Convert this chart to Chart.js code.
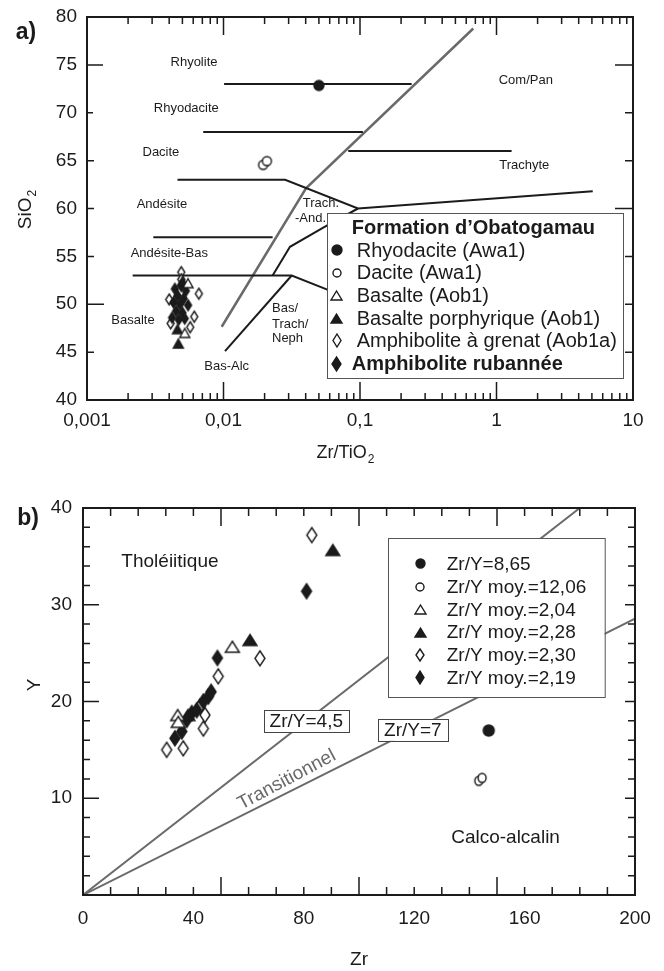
<!DOCTYPE html>
<html>
<head>
<meta charset="utf-8">
<script src="https://cdn.jsdelivr.net/npm/chart.js@4.4.1/dist/chart.umd.min.js"></script>
<style>
  html, body { margin: 0; padding: 0; background: #fff; }
  #wrap { position: relative; width: 664px; height: 971px; }
  #ca { position: absolute; left: 0; top: 0; width: 664px; height: 465px; }
  #cb { position: absolute; left: 0; top: 465px; width: 664px; height: 506px; }
</style>
</head>
<body>
<div id="wrap">
  <canvas id="ca" width="664" height="465"></canvas>
  <canvas id="cb" width="664" height="506"></canvas>
</div>
<script>
// ---------- Panel a : SiO2 vs Zr/TiO2 ----------
const zrTiTicks = [0.001, 0.01, 0.1, 1, 10];
const sio2Ticks = [40, 45, 50, 55, 60, 65, 70, 75, 80];

// samples, [Zr/TiO2, SiO2]
const aRhyodacite   = [[0.05, 72.85]];
const aDacite       = [[0.0195, 64.55], [0.0208, 64.95]];
const aBasalte      = [[0.0052, 47.0], [0.0055, 52.2]];
const aBasaltePorph = [[0.00467, 45.9], [0.0046, 47.4], [0.0050, 52.4]];
const aAmphGrenat   = [[0.0049, 53.35], [0.0049, 52.6], [0.0066, 51.1], [0.0061, 48.7],
                       [0.0040, 50.5], [0.0041, 48.0], [0.0057, 47.6]];
const aAmphRub      = [[0.0044, 51.6], [0.0049, 51.9], [0.0053, 51.4], [0.0046, 50.9],
                       [0.0051, 50.6], [0.0043, 50.2], [0.0048, 50.0], [0.0055, 49.9],
                       [0.0045, 49.3], [0.0050, 49.1], [0.0042, 48.6], [0.0047, 48.4],
                       [0.0052, 48.5]];

// field boundaries
const bndRhyolite    = [[0.0101, 73], [0.239, 73]];
const bndRhyodacite  = [[0.0071, 68], [0.105, 68]];
const bndTrachyte    = [[0.082, 66], [1.29, 66]];
const bndDacite      = [[0.0046, 63], [0.0283, 63], [0.0966, 60], [5.07, 61.8]];
const bndAndesite    = [[0.00306, 57], [0.0229, 57]];
const bndBasalte     = [[0.00216, 53], [0.0316, 53], [0.057, 51.56], [0.085, 50.4]];
const bndTrachAnd    = [[0.0229, 53], [0.0307, 56], [0.0538, 58], [0.0966, 60]];
const bndBasAlc      = [[0.01026, 45.1], [0.0316, 53]];
const bndSubalcalin  = [[0.0097, 47.65], [0.0402, 62.1], [0.676, 78.8]];

// field names
const fieldNames = ['Rhyolite', 'Rhyodacite', 'Dacite', 'Andésite', 'Andésite-Bas', 'Basalte',
                    'Bas-Alc', 'Com/Pan', 'Trachyte', 'Trach.', '-And.'];
const fieldZrTi  = [0.00608, 0.00534, 0.00348, 0.00354, 0.00401, 0.00217,
                    0.01055, 1.64, 1.596, 0.0518, 0.0434];
const fieldSiO2  = [75.3, 70.4, 65.9, 60.4, 55.3, 48.35, 43.48, 73.4, 64.47, 60.54, 58.98];
const nephLines  = ['Bas/', 'Trach/', 'Neph'];
const nephZrTi   = [0.02266, 0.02266, 0.02266];
const nephSiO2   = [49.58, 47.94, 46.44];

// ---------- Panel b : Y vs Zr ----------
const zrTicks = [0, 40, 80, 120, 160, 200];
const yTicks  = [10, 20, 30, 40];

// samples, [Zr, Y]
const bRhyodacite   = [[147, 17]];
const bDacite       = [[143.4, 11.8], [144.6, 12.1]];
const bBasalte      = [[54.1, 25.66], [34.3, 18.6], [34.5, 17.9]];
const bBasaltePorph = [[90.5, 35.66], [60.5, 26.36], [38, 18.6]];
const bAmphGrenat   = [[82.9, 37.2], [64.1, 24.46], [49.0, 22.6], [30.3, 15.0], [36.3, 15.16],
                       [43.6, 17.2], [44.2, 18.6], [42.4, 19.5]];
const bAmphRub      = [[81.0, 31.4], [48.7, 24.5], [33.3, 16.2], [35.8, 16.9], [37.6, 18.1],
                       [39.4, 18.8], [41.2, 19.1], [43.6, 20.0], [45.4, 20.5], [46.4, 21.0]];

const ratioLines  = [4.5, 7];              // Zr/Y
const ratioLabels = ['Zr/Y=4,5', 'Zr/Y=7'];
const ratioLabelZr = [80.9, 119.5];
const legendB = ['Zr/Y=8,65', 'Zr/Y moy.=12,06', 'Zr/Y moy.=2,04', 'Zr/Y moy.=2,28',
                 'Zr/Y moy.=2,30', 'Zr/Y moy.=2,19'];
const legendA = ['Rhyodacite (Awa1)', 'Dacite (Awa1)', 'Basalte (Aob1)',
                 'Basalte porphyrique (Aob1)', 'Amphibolite à grenat (Aob1a)', 'Amphibolite rubannée'];

// ---------- drawing helpers ----------
const INK = '#1b1b1b';
const GREY = '#6a6a6a';
const FONT = "'Liberation Sans', Arial, Helvetica, sans-serif";

function marker(shape, w, h, filled) {
  const c = document.createElement('canvas');
  const pad = 2;
  c.width = w + pad * 2; c.height = h + pad * 2;
  const g = c.getContext('2d');
  g.lineWidth = 1.4; g.strokeStyle = INK; g.fillStyle = filled ? INK : '#fff';
  const cx = c.width / 2, cy = c.height / 2;
  g.beginPath();
  if (shape === 'diamond') {
    g.moveTo(cx, cy - h / 2); g.lineTo(cx + w / 2, cy); g.lineTo(cx, cy + h / 2); g.lineTo(cx - w / 2, cy);
  } else if (shape === 'triangle') {
    g.moveTo(cx, cy - h / 2); g.lineTo(cx + w / 2, cy + h / 2); g.lineTo(cx - w / 2, cy + h / 2);
  } else {
    g.ellipse(cx, cy, w / 2, h / 2, 0, 0, Math.PI * 2);
  }
  g.closePath(); g.fill(); g.stroke();
  return c;
}

const toXY = arr => arr.map(([x, y]) => ({ x, y }));
const pointsDS = (arr, style) => ({ data: toXY(arr), pointStyle: style, pointRadius: 5, showLine: false });
const lineDS = (arr, color, width) => ({ data: toXY(arr), showLine: true, borderColor: color,
  borderWidth: width, pointRadius: 0, fill: false, tension: 0 });

function textPlugin(items) {
  return { id: 'fieldText', beforeDatasetsDraw(chart) {
    const { ctx } = chart; const xs = chart.scales.x, ys = chart.scales.y;
    ctx.save();
    ctx.textBaseline = 'middle';
    for (const it of items) {
      ctx.font = it.font; ctx.fillStyle = it.color || INK; ctx.textAlign = it.align || 'center';
      const px = xs.getPixelForValue(it.x), py = ys.getPixelForValue(it.y);
      ctx.save(); ctx.translate(px, py);
      if (it.angle) ctx.rotate(it.angle * Math.PI / 180);
      ctx.fillText(it.text, 0, 0);
      ctx.restore();
    }
    ctx.restore();
  }};
}

function boxedLabelsPlugin(items) {
  return { id: 'boxedLabels', afterDatasetsDraw(chart) {
    const { ctx } = chart; const xs = chart.scales.x, ys = chart.scales.y;
    ctx.save();
    ctx.font = '19px ' + FONT; ctx.textAlign = 'center'; ctx.textBaseline = 'middle';
    for (const it of items) {
      const px = xs.getPixelForValue(it.x), py = ys.getPixelForValue(it.y);
      const w = ctx.measureText(it.text).width + 12, h = 22;
      ctx.fillStyle = '#fff'; ctx.fillRect(px - w / 2, py - h / 2, w, h);
      ctx.strokeStyle = '#444'; ctx.lineWidth = 1; ctx.strokeRect(Math.round(px - w / 2) + 0.5, Math.round(py - h / 2) + 0.5, Math.round(w), h);
      ctx.fillStyle = INK; ctx.fillText(it.text, px, py + 1);
    }
    ctx.restore();
  }};
}

function legendPlugin(spec) {
  return { id: 'boxLegend', afterDatasetsDraw(chart) {
    const { ctx, chartArea: a } = chart;
    const x0 = Math.round(a.left + spec.dx), y0 = Math.round(a.top + spec.dy);
    ctx.save();
    ctx.fillStyle = '#fff'; ctx.fillRect(x0, y0, spec.w, spec.h);
    ctx.strokeStyle = '#555'; ctx.lineWidth = 1; ctx.strokeRect(x0 + 0.5, y0 + 0.5, spec.w, spec.h);
    ctx.fillStyle = INK; ctx.textBaseline = 'middle'; ctx.textAlign = 'left';
    if (spec.title) {
      ctx.font = 'bold ' + spec.size + 'px ' + FONT;
      ctx.fillText(spec.title, x0 + spec.titleX, y0 + spec.titleY);
    }
    spec.rows.forEach((r, i) => {
      const y = y0 + spec.rowY + i * spec.rowH;
      ctx.drawImage(r.mark, Math.round(x0 + spec.markX - r.mark.width / 2), Math.round(y - r.mark.height / 2));
      ctx.font = (r.bold ? 'bold ' : '') + spec.size + 'px ' + FONT;
      ctx.fillText(r.text, x0 + (r.bold ? spec.boldX : spec.textX), y + 1);
    });
    ctx.restore();
  }};
}

function framePlugin(spec) {
  return { id: 'frame', afterDraw(chart) {
    const { ctx, chartArea: a } = chart; const xs = chart.scales.x, ys = chart.scales.y;
    ctx.save();
    ctx.strokeStyle = INK; ctx.lineWidth = 1.5;
    ctx.beginPath();
    spec.bottom.forEach(([v, l]) => { const p = xs.getPixelForValue(v); ctx.moveTo(p, a.bottom); ctx.lineTo(p, a.bottom - l); });
    spec.top.forEach(([v, l]) => { const p = xs.getPixelForValue(v); ctx.moveTo(p, a.top); ctx.lineTo(p, a.top + l); });
    spec.left.forEach(([v, l]) => { const p = ys.getPixelForValue(v); ctx.moveTo(a.left, p); ctx.lineTo(a.left + l, p); });
    spec.right.forEach(([v, l]) => { const p = ys.getPixelForValue(v); ctx.moveTo(a.right, p); ctx.lineTo(a.right - l, p); });
    ctx.stroke();
    ctx.lineWidth = 2;
    ctx.strokeRect(a.left, a.top, a.right - a.left, a.bottom - a.top);
    // axis titles and panel tag
    ctx.fillStyle = INK; ctx.textBaseline = 'alphabetic';
    for (const t of spec.titles) {
      ctx.save(); ctx.translate(t.x, t.y); if (t.angle) ctx.rotate(t.angle * Math.PI / 180);
      ctx.font = t.font; ctx.textAlign = 'left';
      const w1 = ctx.measureText(t.text).width;
      let w2 = 0;
      if (t.sub) { ctx.font = t.subFont; w2 = ctx.measureText(t.sub).width; }
      const start = -(w1 + w2) / 2;
      ctx.font = t.font; ctx.fillText(t.text, start, t.base);
      if (t.sub) { ctx.font = t.subFont; ctx.fillText(t.sub, start + w1 + 1, t.base + 5); }
      ctx.restore();
    }
    ctx.restore();
  }};
}

const tickFont = { family: FONT, size: 19 };
// keep the plot frame where the layout padding puts it
const noScalePad = s => { s.paddingTop = 0; s.paddingBottom = 0; };

// ---------- chart a ----------
const mkA = {
  rhyo: marker('circle', 10, 10, true), dac: marker('circle', 9, 9, false),
  bas: marker('triangle', 10, 9, false), basP: marker('triangle', 10, 9, true),
  amG: marker('diamond', 7, 11, false), amR: marker('diamond', 7, 11, true)
};
const mkLA = [marker('circle', 10, 10, true), marker('circle', 8, 8, false),
  marker('triangle', 11, 9, false), marker('triangle', 11, 9, true),
  marker('diamond', 8, 13, false), marker('diamond', 9, 14, true)];

const minorLog = [];
for (let k = -3; k < 1; k++) for (let m = 2; m <= 9; m++) minorLog.push(m * Math.pow(10, k));
const logTicks = zrTiTicks.map(v => [v, 18]).concat(minorLog.map(v => [v, 7]));

const labelsA = fieldNames.map((t, i) => ({ text: t, x: fieldZrTi[i], y: fieldSiO2[i], font: '13px ' + FONT }))
  .concat(nephLines.map((t, i) => ({ text: t, x: nephZrTi[i], y: nephSiO2[i], font: '13px ' + FONT, align: 'left' })));

new Chart(document.getElementById('ca'), {
  type: 'scatter',
  data: { datasets: [
    pointsDS(aRhyodacite, mkA.rhyo), pointsDS(aDacite, mkA.dac),
    pointsDS(aBasalte, mkA.bas), pointsDS(aBasaltePorph, mkA.basP),
    pointsDS(aAmphRub, mkA.amR), pointsDS(aAmphGrenat, mkA.amG),
    lineDS(bndRhyolite, INK, 2), lineDS(bndRhyodacite, INK, 2), lineDS(bndTrachyte, INK, 2),
    lineDS(bndDacite, INK, 2), lineDS(bndAndesite, INK, 2), lineDS(bndBasalte, INK, 2),
    lineDS(bndTrachAnd, INK, 2), lineDS(bndBasAlc, INK, 2), lineDS(bndSubalcalin, GREY, 2.5)
  ]},
  options: {
    responsive: false, animation: false, events: [],
    layout: { padding: { top: 17, right: 31, left: 0, bottom: 0 } },
    plugins: { legend: { display: false }, tooltip: { enabled: false } },
    scales: {
      x: { type: 'logarithmic', min: 0.001, max: 10,
        afterBuildTicks: s => { s.ticks = zrTiTicks.map(v => ({ value: v })); },
        afterFit: s => { s.height = 65; },
        grid: { display: false, drawTicks: false }, border: { display: false },
        ticks: { font: tickFont, color: INK, padding: 9, maxRotation: 0, autoSkip: false,
          callback: v => String(v).replace('.', ',') } },
      y: { min: 40, max: 80,
        afterBuildTicks: s => { s.ticks = sio2Ticks.map(v => ({ value: v })); },
        afterFit: s => { s.width = 87; noScalePad(s); },
        grid: { display: false, drawTicks: false }, border: { display: false },
        ticks: { font: tickFont, color: INK, padding: 10 } }
    }
  },
  plugins: [
    textPlugin(labelsA),
    legendPlugin({ dx: 240, dy: 196, w: 296, h: 165, size: 20, title: 'Formation d\u2019Obatogamau',
      titleX: 24.7, titleY: 15.5, rowY: 37, rowH: 22.7, markX: 9.7, textX: 29.7, boldX: 24.7,
      rows: legendA.map((t, i) => ({ text: t, mark: mkLA[i], bold: i === 5 })) }),
    framePlugin({ bottom: logTicks, top: logTicks,
      left: [[75, 16], [70, 6], [65, 7], [60, 7], [55, 7], [50, 17], [45, 7]],
      right: [[75, 18], [70, 8], [65, 8], [60, 18], [55, 8], [50, 8], [45, 8]],
      titles: [
        { text: 'SiO', sub: '2', x: 31, y: 210, angle: -90, base: 0, font: '19px ' + FONT, subFont: '12px ' + FONT },
        { text: 'Zr/TiO', sub: '2', x: 345, y: 458, base: 0, font: '18px ' + FONT, subFont: '12px ' + FONT },
        { text: 'a)', x: 26, y: 39, base: 0, font: 'bold 23px ' + FONT }
      ] })
  ]
});

// ---------- chart b ----------
const mkB = {
  rhyo: marker('circle', 11, 11, true), dac: marker('circle', 8, 9, false),
  bas: marker('triangle', 14, 11, false), basP: marker('triangle', 14, 11, true),
  amG: marker('diamond', 10, 15, false), amR: marker('diamond', 10, 15, true)
};
const mkLB = [marker('circle', 9, 9, true), marker('circle', 8, 8, false),
  marker('triangle', 11, 9, false), marker('triangle', 11, 9, true),
  marker('diamond', 8, 12, false), marker('diamond', 8, 13, true)];

const ratioDS = ratioLines.map(r => {
  const zEnd = Math.min(200, 40 * r);
  return lineDS([[0, 0], [zEnd, zEnd / r]], GREY, 2);
});

const tickB = [];
for (let v = 10; v < 200; v += 10) tickB.push([v, v % 50 === 0 ? 18 : 8]);
const leftB = [], rightB = [];
for (let v = 2; v < 40; v += 2) { leftB.push([v, v % 10 === 0 ? 16 : 7]); rightB.push([v, v % 10 === 0 ? 10 : 7]); }

new Chart(document.getElementById('cb'), {
  type: 'scatter',
  data: { datasets: [
    pointsDS(bRhyodacite, mkB.rhyo), pointsDS(bDacite, mkB.dac),
    pointsDS(bBasalte, mkB.bas), pointsDS(bBasaltePorph, mkB.basP),
    pointsDS(bAmphRub, mkB.amR), pointsDS(bAmphGrenat, mkB.amG),
    ...ratioDS
  ]},
  options: {
    responsive: false, animation: false, events: [],
    layout: { padding: { top: 43, right: 29, left: 0, bottom: 0 } },
    plugins: { legend: { display: false }, tooltip: { enabled: false } },
    scales: {
      x: { type: 'linear', min: 0, max: 200,
        afterBuildTicks: s => { s.ticks = zrTicks.map(v => ({ value: v })); },
        afterFit: s => { s.height = 76; },
        grid: { display: false, drawTicks: false }, border: { display: false },
        ticks: { font: tickFont, color: INK, padding: 12, maxRotation: 0, autoSkip: false } },
      y: { min: 0, max: 40,
        afterBuildTicks: s => { s.ticks = yTicks.map(v => ({ value: v })); },
        afterFit: s => { s.width = 83; noScalePad(s); },
        grid: { display: false, drawTicks: false }, border: { display: false },
        ticks: { font: tickFont, color: INK, padding: 11 } }
    }
  },
  plugins: [
    textPlugin([
      { text: 'Tholéiitique', x: 31.5, y: 34.45, font: '19px ' + FONT },
      { text: 'Calco-alcalin', x: 153.1, y: 5.96, font: '19px ' + FONT },
      { text: 'Transitionnel', x: 73.8, y: 11.9, angle: -28, color: GREY, font: '19px ' + FONT }
    ]),
    boxedLabelsPlugin(ratioLabels.map((t, i) => ({ text: t, x: ratioLabelZr[i], y: ratioLabelZr[i] / ratioLines[i] }))),
    legendPlugin({ dx: 305.3, dy: 29.7, w: 216.7, h: 159, size: 19,
      rowY: 25.8, rowH: 22.8, markX: 32, textX: 58.7, boldX: 58.7,
      rows: legendB.map((t, i) => ({ text: t, mark: mkLB[i] })) }),
    framePlugin({ bottom: tickB, top: tickB, left: leftB, right: rightB,
      titles: [
        { text: 'Y', x: 40, y: 220, angle: -90, base: 0, font: '19px ' + FONT },
        { text: 'Zr', x: 359, y: 500, base: 0, font: '19px ' + FONT },
        { text: 'b)', x: 28, y: 60, base: 0, font: 'bold 23px ' + FONT }
      ] })
  ]
});
</script>
</body>
</html>
